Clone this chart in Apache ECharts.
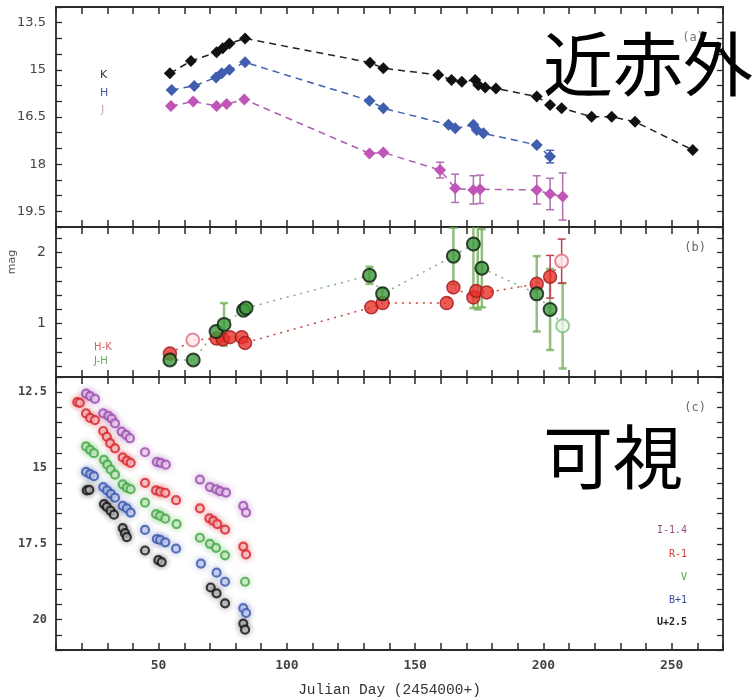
<!DOCTYPE html>
<html><head><meta charset="utf-8">
<script src="https://cdn.jsdelivr.net/npm/echarts@6/dist/echarts.min.js"></script>
<style>html,body{margin:0;padding:0;background:#fff}#c{width:755px;height:699px}</style>
</head><body><div id="c"></div>
<script>
// ---- Panel (a): near-infrared light curves ----
const kDay = [54.4,62.6,72.6,75.0,77.6,83.7,132.4,137.6,159.0,164.2,168.2,173.4,174.6,177.3,181.5,197.4,202.6,207.1,218.8,226.6,235.7,258.2];
const kMag = [15.11,14.72,14.44,14.31,14.16,14.0,14.77,14.95,15.16,15.32,15.38,15.32,15.48,15.56,15.59,15.85,16.12,16.22,16.49,16.49,16.65,17.55];
const hDay = [55.1,63.9,72.4,74.6,77.6,83.7,132.2,137.6,163.0,165.6,172.7,174.0,176.6,197.4,202.6];
const hMag = [15.64,15.51,15.24,15.11,15.0,14.76,15.98,16.22,16.75,16.86,16.75,16.91,17.02,17.39,17.76];
const jDay = [54.8,63.5,72.6,76.5,83.4,132.2,137.6,159.7,165.6,172.7,175.3,197.4,202.6,207.5];
const jMag = [16.15,16.01,16.15,16.09,15.94,17.66,17.63,18.19,18.77,18.82,18.80,18.82,18.95,19.03];
const jErr = [[159.7,18.19,0.25],[165.6,18.77,0.45],[172.7,18.82,0.45],[175.3,18.80,0.45],[197.4,18.82,0.45],[202.6,18.95,0.5],[207.5,19.03,0.75]];
const hErr = [[202.6,17.76,0.2]];

// ---- Panel (b): colours ----
const hkDay = [54.4,63.3,72.6,75.0,77.8,82.4,83.7,132.9,137.3,162.3,164.9,172.7,173.8,177.9,197.4,202.6,207.1];
const hkMag = [0.58,0.77,0.79,0.78,0.81,0.81,0.73,1.23,1.29,1.29,1.51,1.37,1.46,1.44,1.56,1.66,1.88];
const hkOpen = [[63.3,0.77],[207.1,1.88]];
const hkErr = [[202.6,1.66,0.3],[207.1,1.88,0.31]];
const jhDay = [54.4,63.5,72.4,75.5,83.1,84.1,132.2,137.3,164.9,172.7,176.0,197.4,202.6,207.5];
const jhMag = [0.49,0.49,0.89,0.99,1.19,1.22,1.68,1.42,1.95,2.12,1.78,1.42,1.20,0.97];
const jhOpen = [[207.5,0.97]];
const jhErr = [[75.5,0.99,0.3],[132.2,1.68,0.12],[137.3,1.42,0.08],[164.9,1.95,0.4],[172.7,2.12,0.9],[174.4,1.9,0.7],[176.0,1.78,0.55],[197.4,1.42,0.53],[202.6,1.20,0.57],[207.5,0.97,0.6]];

// ---- Panel (c): optical light curves ----
const iDay = [21.7,23.3,25.2,28.4,30.4,31.7,33.0,35.6,37.3,38.8,44.7,49.3,50.8,52.8,66.1,70.0,72.4,73.9,76.3,83.0,84.1];
const iMag = [12.55,12.63,12.72,13.2,13.28,13.37,13.53,13.8,13.91,14.02,14.48,14.8,14.83,14.89,15.38,15.63,15.7,15.76,15.81,16.25,16.47];
const rDay = [18.3,19.3,21.7,23.3,25.2,28.4,29.8,31.1,33.0,36.0,37.6,39.1,44.7,49.0,50.6,52.6,56.8,66.1,69.8,71.3,72.9,75.9,83.0,84.1];
const rMag = [12.83,12.85,13.2,13.35,13.42,13.78,13.97,14.18,14.35,14.65,14.76,14.83,15.49,15.74,15.78,15.82,16.06,16.33,16.66,16.74,16.85,17.03,17.59,17.85];
const vDay = [21.7,23.3,24.8,28.7,30.0,31.3,33.0,36.0,37.6,39.1,44.7,49.0,50.6,52.6,57.0,66.1,70.0,72.4,75.9,83.7];
const vMag = [14.29,14.4,14.51,14.73,14.89,15.05,15.22,15.54,15.65,15.7,16.14,16.52,16.58,16.67,16.85,17.3,17.5,17.63,17.88,18.75];
const bDay = [21.7,23.3,24.8,28.4,29.9,31.4,33.0,36.0,37.6,39.1,44.7,49.3,50.6,52.6,56.8,66.5,72.6,75.9,83.0,84.1];
const bMag = [15.13,15.2,15.27,15.63,15.74,15.85,15.98,16.25,16.33,16.47,17.04,17.34,17.37,17.45,17.66,18.15,18.45,18.75,19.62,19.78];
const uDay = [22.0,23.0,28.7,29.8,31.3,32.6,36.0,36.9,37.6,44.7,49.9,51.2,70.3,72.6,75.9,83.0,83.7];
const uMag = [15.74,15.72,16.19,16.28,16.41,16.54,16.98,17.15,17.28,17.72,18.04,18.1,18.94,19.13,19.46,20.13,20.33];

// ---- tick labels ----
const xLabels = [50,100,150,200,250];
const aLabels = [13.5,15,16.5,18,19.5];
const bLabels = [1,2];
const bTicks = [0.4,0.6,0.8,1.0,1.2,1.4,1.6,1.8,2.0,2.2];
const cLabels = [12.5,15,17.5,20];
const xName = 'Julian Day (2454000+)';

const zip = (a,b) => a.map((v,i)=>[v,b[i]]);

const chart = echarts.init(document.getElementById('c'));
const AX = '#2a2a2a';
const lblFont = {color:'#444', fontSize:13, fontFamily:'DejaVu Sans'};
const lblFontC = {color:'#444', fontSize:12, fontFamily:'DejaVu Sans Mono', fontWeight:'bold'};

function xAx(grid, pos, showLabels){
  return {type:'value', gridIndex:grid, position:pos, min:10, max:270, interval:10,
    axisLine:{show:true, onZero:false, lineStyle:{color:AX, width:1.8}},
    axisTick:{show:true, inside:true, length:7, lineStyle:{color:AX, width:1.5}},
    axisLabel: showLabels ? {show:true, customValues:xLabels, margin:9, ...lblFontC, fontSize:13} : {show:false},
    splitLine:{show:false},
    name: showLabels ? xName : '', nameLocation:'middle', nameGap:33,
    nameTextStyle:{fontFamily:'Liberation Mono', fontSize:14.5, color:'#333'}
  };
}
function yAx(grid, pos, min, max, opts){
  return Object.assign({type:'value', gridIndex:grid, position:pos, min:min, max:max,
    axisLine:{show:true, onZero:false, lineStyle:{color:AX, width:1.8}},
    axisTick:{show:true, inside:true, length:6, lineStyle:{color:AX, width:1.3}},
    axisLabel:{show:false},
    splitLine:{show:false}}, opts);
}

function errSeries(data, xi, yi, color, lw, capW){
  return {type:'custom', xAxisIndex:xi, yAxisIndex:yi, data:data, clip:true, z:1,
    encode:{x:0, y:1},
    renderItem:function(params, api){
      const x=api.value(0), y=api.value(1), e=api.value(2);
      const p1=api.coord([x,y-e]), p2=api.coord([x,y+e]);
      const st={stroke:color, lineWidth:lw};
      return {type:'group', children:[
        {type:'line', shape:{x1:p1[0],y1:p1[1],x2:p2[0],y2:p2[1]}, style:st},
        {type:'line', shape:{x1:p1[0]-capW,y1:p1[1],x2:p1[0]+capW,y2:p1[1]}, style:st},
        {type:'line', shape:{x1:p2[0]-capW,y1:p2[1],x2:p2[0]+capW,y2:p2[1]}, style:st}
      ]};
    }};
}

function lineSeries(days, mags, xi, yi, symbol, size, itemStyle, lineStyle){
  return {type:'line', xAxisIndex:xi, yAxisIndex:yi, data:zip(days,mags), symbol:symbol, symbolSize:size,
    itemStyle:itemStyle, lineStyle:lineStyle || {width:0, opacity:0}, z:3, animation:false};
}

function optSeries(days, mags, col, fill){
  return {type:'scatter', xAxisIndex:4, yAxisIndex:4, data:zip(days,mags), symbol:'circle', symbolSize:8,
    itemStyle:{color:fill, borderColor:col, borderWidth:2.2, shadowBlur:7, shadowColor:col+'66'}, z:3};
}

const option = {
  animation:false,
  grid:[
    {left:56, top:7, width:667, height:220},
    {left:56, top:227, width:667, height:150},
    {left:56, top:377, width:667, height:275}
  ],
  xAxis:[ xAx(0,'bottom',false), xAx(0,'top',false), xAx(1,'bottom',false), xAx(1,'top',false), xAx(2,'bottom',true), xAx(2,'top',false) ],
  yAxis:[
    yAx(0,'left',13,20,{inverse:true, interval:0.5, axisLabel:{show:true, customValues:aLabels, margin:10, ...lblFont}}),
    yAx(0,'right',13,20,{inverse:true, interval:0.5}),
    yAx(1,'left',0.25,2.36,{axisTick:{show:true, inside:true, length:6, customValues:bTicks, lineStyle:{color:AX,width:1.3}}, axisLabel:{show:true, customValues:bLabels, margin:10, ...lblFont, fontSize:14}}),
    yAx(1,'right',0.25,2.36,{axisTick:{show:true, inside:true, length:6, customValues:bTicks, lineStyle:{color:AX,width:1.3}}}),
    yAx(2,'left',12,21,{inverse:true, interval:0.5, axisLabel:{show:true, customValues:cLabels, margin:9, ...lblFontC}}),
    yAx(2,'right',12,21,{inverse:true, interval:0.5})
  ],
  series:[
    // panel a
    errSeries(jErr,0,0,'#b070b0',1.5,4),
    errSeries(hErr,0,0,'#4a62b0',1.5,4),
    lineSeries(kDay,kMag,0,0,'diamond',12,{color:'#111'},{color:'#222',width:1.5,type:[7,5]}),
    lineSeries(hDay,hMag,0,0,'diamond',12,{color:'#3f5fae'},{color:'#3f5fae',width:1.5,type:[7,5]}),
    lineSeries(jDay,jMag,0,0,'diamond',12,{color:'#c055b8'},{color:'#b060b0',width:1.5,type:[7,5]}),
    // panel b
    errSeries(jhErr,2,2,'rgba(110,170,80,0.75)',2.5,4),
    errSeries(hkErr,2,2,'#c04050',1.5,4),
    lineSeries(hkDay,hkMag,2,2,'none',0,{color:'#d03030'},{color:'#d04040',width:1.5,type:[2,5]}),
    lineSeries(jhDay,jhMag,2,2,'none',0,{color:'#60a060'},{color:'#80b080',width:1.5,type:[2,5]}),
    {type:'scatter', xAxisIndex:2, yAxisIndex:2, data:zip(hkDay,hkMag).filter(p=>!hkOpen.some(o=>o[0]===p[0])), symbol:'circle', symbolSize:13,
      itemStyle:{color:'#e8302a', borderColor:'#a01818', borderWidth:1.5}, z:4},
    {type:'scatter', xAxisIndex:2, yAxisIndex:2, data:hkOpen, symbol:'circle', symbolSize:13,
      itemStyle:{color:'#fbe8ea', borderColor:'#e07080', borderWidth:2}, z:4},
    {type:'scatter', xAxisIndex:2, yAxisIndex:2, data:zip(jhDay,jhMag).filter(p=>!jhOpen.some(o=>o[0]===p[0])), symbol:'circle', symbolSize:13,
      itemStyle:{color:'#3d9a3d', borderColor:'#0c1c0c', borderWidth:2}, z:5},
    {type:'scatter', xAxisIndex:2, yAxisIndex:2, data:jhOpen, symbol:'circle', symbolSize:13,
      itemStyle:{color:'#eef8ee', borderColor:'#80c080', borderWidth:2}, z:5},
    // panel c
    optSeries(iDay,iMag,'#9a4fae','#f2dcf4'),
    optSeries(rDay,rMag,'#d8262e','#f8d0d0'),
    optSeries(vDay,vMag,'#45a845','#d8f0d4'),
    optSeries(bDay,bMag,'#3a56ac','#d4dcf4'),
    optSeries(uDay,uMag,'#111111','#cccccc')
  ],
  graphic:[
    {type:'text', left:100, top:70, style:{text:'K', fill:'#333', font:'11px DejaVu Sans'}},
    {type:'text', left:100, top:88, style:{text:'H', fill:'#4a5aa0', font:'11px DejaVu Sans'}},
    {type:'text', left:101, top:105, style:{text:'J', fill:'#c8a8c8', font:'11px DejaVu Sans'}},
    {type:'text', left:94, top:342, style:{text:'H-K', fill:'#d06060', font:'10px DejaVu Sans'}},
    {type:'text', left:94, top:356, style:{text:'J-H', fill:'#60a860', font:'10px DejaVu Sans'}},
    {type:'text', x:12, y:262, rotation:Math.PI/2, style:{text:'mag', fill:'#555', font:'11px DejaVu Sans', align:'center', verticalAlign:'middle'}},
    {type:'text', x:704, y:38, style:{text:'(a)', fill:'#777', font:'12px DejaVu Sans Mono', align:'right', verticalAlign:'middle'}},
    {type:'text', x:706, y:248, style:{text:'(b)', fill:'#666', font:'12px DejaVu Sans Mono', align:'right', verticalAlign:'middle'}},
    {type:'text', x:706, y:408, style:{text:'(c)', fill:'#666', font:'12px DejaVu Sans Mono', align:'right', verticalAlign:'middle'}},
    {type:'text', x:687, y:530, style:{text:'I-1.4', fill:'#905080', font:'10px DejaVu Sans Mono', align:'right', verticalAlign:'middle'}},
    {type:'text', x:687, y:554, style:{text:'R-1', fill:'#d03838', font:'10px DejaVu Sans Mono', align:'right', verticalAlign:'middle'}},
    {type:'text', x:687, y:577, style:{text:'V', fill:'#50a830', font:'10px DejaVu Sans Mono', align:'right', verticalAlign:'middle'}},
    {type:'text', x:687, y:600, style:{text:'B+1', fill:'#3a4a98', font:'10px DejaVu Sans Mono', align:'right', verticalAlign:'middle'}},
    {type:'text', x:687, y:622, style:{text:'U+2.5', fill:'#222', font:'bold 10px DejaVu Sans Mono', align:'right', verticalAlign:'middle'}},
    {type:'text', x:543, y:64, z:100, style:{text:'近赤外', fill:'#000', font:'70px "Noto Sans CJK JP"', align:'left', verticalAlign:'middle'}},
    {type:'text', x:543, y:457, z:100, style:{text:'可視', fill:'#000', font:'70px "Noto Sans CJK JP"', align:'left', verticalAlign:'middle'}}
  ]
};
chart.setOption(option);
</script>
</body></html>
